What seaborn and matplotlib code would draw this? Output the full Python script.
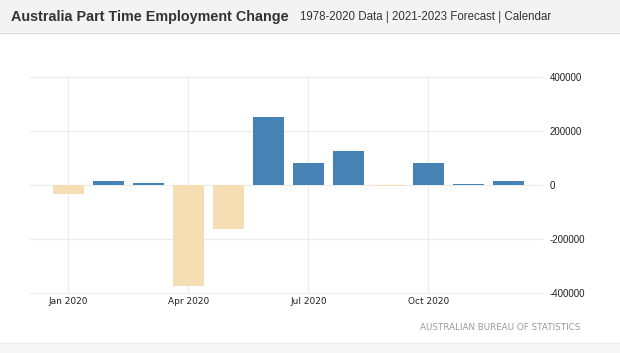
import numpy as np
import pandas as pd
import seaborn as sns
import matplotlib.pyplot as plt
from matplotlib.patches import Rectangle
from matplotlib.lines import Line2D

# monthly change in part time employment, 2020
months = ["Jan", "Feb", "Mar", "Apr", "May", "Jun",
          "Jul", "Aug", "Sep", "Oct", "Nov", "Dec"]
changes = [-35000, 15000, 8000, -373000, -162000, 251000,
           80000, 127000, -2000, 81000, 5000, 15000]
tick_months = ["Jan", "Apr", "Jul", "Oct"]
tick_labels = ["Jan 2020", "Apr 2020", "Jul 2020", "Oct 2020"]
y_ticks = [-400000, -200000, 0, 200000, 400000]

df = pd.DataFrame({"month": months, "change": changes})
df["sign"] = np.where(df["change"] >= 0, "up", "down")

sns.set_style("white")
plt.rcParams["font.family"] = ["DejaVu Sans"]

fig = plt.figure(figsize=(6.2, 3.53), dpi=100)
W, H = 620, 353

# header band and page frame
fig.patches.append(Rectangle((0, 1 - 32 / H), 1, 32 / H, transform=fig.transFigure,
                             facecolor="#f3f3f3", edgecolor="none", zorder=0))
fig.lines.append(Line2D([0, 1], [1 - 32.5 / H] * 2, transform=fig.transFigure,
                        color="#dadada", lw=1))
fig.patches.append(Rectangle((0, 0), 1, 10 / H, transform=fig.transFigure,
                             facecolor="#f6f6f6", edgecolor="none", zorder=0))
fig.lines.append(Line2D([0, 1], [10.5 / H] * 2, transform=fig.transFigure,
                        color="#ececec", lw=1))

ax = fig.add_axes([30 / W, (H - 294.4) / H, 513 / W, 218.8 / H])
sns.barplot(data=df, x="month", y="change", hue="sign", order=months,
            palette={"up": "#4682b4", "down": "#f5deb3"}, dodge=False,
            width=0.77, saturation=1, linewidth=0, legend=False, ax=ax)

ax.set_xlim(-0.96, 11.87)
ax.set_ylim(-405000, 405000)
ax.set_xticks([months.index(m) for m in tick_months])
ax.set_xticklabels(tick_labels, fontsize=6.5, color="#222222")
ax.set_yticks(y_ticks)
ax.set_yticklabels([str(v) for v in y_ticks], fontsize=7,
                   family=["Liberation Sans"], color="#222222")
ax.yaxis.tick_right()
ax.tick_params(axis="both", length=0)
ax.tick_params(axis="y", pad=5)
ax.tick_params(axis="x", pad=2)
ax.set_xlabel("")
ax.set_ylabel("")
ax.grid(True, color="#ececec", lw=0.9)
ax.set_axisbelow(True)
for s in ax.spines.values():
    s.set_visible(False)

fig.text(11 / W, 1 - 17 / H, "Australia Part Time Employment Change",
         fontsize=10.4, fontweight="bold", family=["Liberation Sans"],
         color="#333333", va="center", ha="left")
fig.text(300 / W, 1 - 17 / H, "1978-2020 Data | 2021-2023 Forecast | Calendar",
         fontsize=8.3, family=["Liberation Sans"], color="#333333",
         va="center", ha="left")
fig.text(580 / W, 1 - 327.7 / H, "AUSTRALIAN BUREAU OF STATISTICS",
         fontsize=6.3, color="#999999", va="center", ha="right")

fig.savefig("out.png", dpi=100)
